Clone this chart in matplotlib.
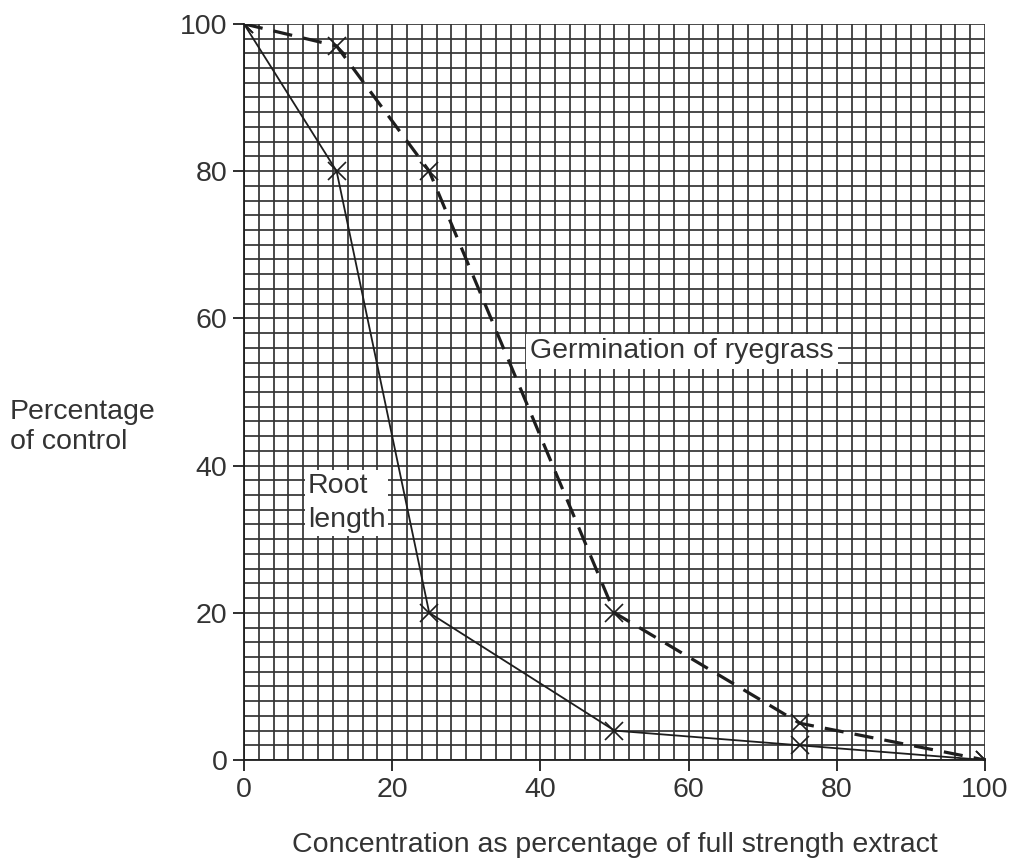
import numpy as np
import matplotlib.pyplot as plt

plt.rcParams['font.family'] = ['Liberation Sans', 'DejaVu Sans']

# concentration (% of full strength extract)
conc = [0, 12.5, 25, 50, 75, 100]
# percentage of control
germination = [100, 97, 80, 20, 5, 0]
root_length = [100, 80, 20, 4, 2, 0]

fig = plt.figure(figsize=(10.11, 8.59), dpi=100)
ax = fig.add_axes([0.2413, 0.1152, 0.733, 0.857])

# graph paper grid, every 2 units
for v in np.arange(0, 101, 2):
    ax.axvline(v, color='#333333', lw=1.25, zorder=1)
    ax.axhline(v, color='#333333', lw=1.25, zorder=1)

ax.plot(conc, root_length, color='#1e1e1e', lw=1.3, marker='x', ms=13,
        mew=1.2, zorder=3)
ax.plot(conc, germination, color='#1e1e1e', lw=2.3, ls=(0, (6, 3.5)),
        marker='x', ms=13, mew=1.2, zorder=3)

ax.text(38.6, 55.5, 'Germination of ryegrass', fontsize=20.5, color='#333333',
        ha='left', va='center', zorder=4,
        bbox=dict(facecolor='white', edgecolor='none', pad=3))
ax.text(8.6, 34.9, 'Root\nlength', fontsize=20.5, color='#333333',
        ha='left', va='center', linespacing=1.4, zorder=4,
        bbox=dict(facecolor='white', edgecolor='none', pad=2))

ax.set_xlim(0, 100)
ax.set_ylim(0, 100)
ax.set_xticks(np.arange(0, 101, 20))
ax.set_yticks(np.arange(0, 101, 20))
ax.tick_params(labelsize=20.5, labelcolor='#333333', length=8, width=1.3,
               color='#1e1e1e', direction='out', pad=4)
for s in ['top', 'right']:
    ax.spines[s].set_visible(False)
for s in ['left', 'bottom']:
    ax.spines[s].set_color('#1e1e1e')
    ax.spines[s].set_linewidth(1.3)

ax.set_xlabel('Concentration as percentage of full strength extract',
              fontsize=20.5, color='#333333', labelpad=21)
fig.text(0.01, 0.503, 'Percentage\nof control', fontsize=20.5, color='#333333',
         ha='left', va='center', linespacing=1.2)

fig.savefig('out.png', dpi=100)
